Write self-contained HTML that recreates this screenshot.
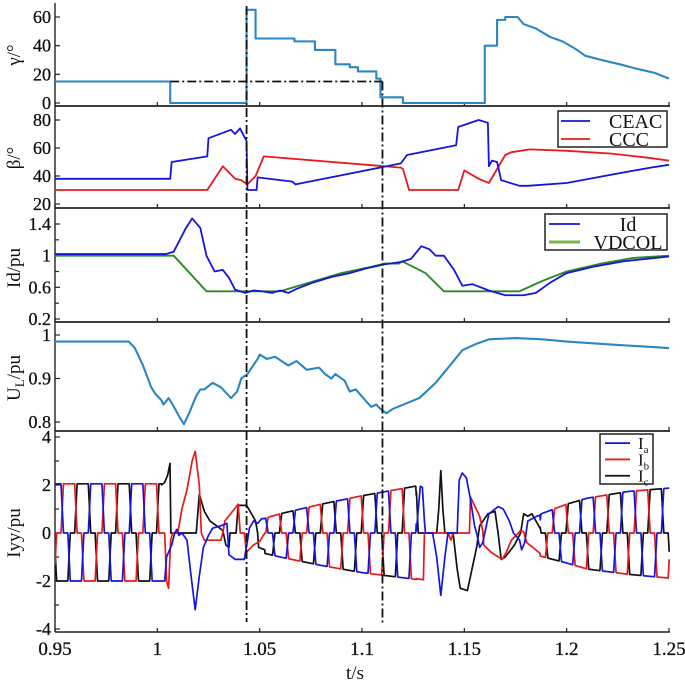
<!DOCTYPE html>
<html><head><meta charset="utf-8">
<style>
html,body{margin:0;padding:0;background:#fff;}
svg{display:block;font-family:"Liberation Serif",serif;}
</style></head>
<body>
<svg id="chart" width="685" height="683" viewBox="0 0 685 683" xmlns="http://www.w3.org/2000/svg"></svg>
<script>
// ---------- data ----------
const xTicks = [0.95, 1, 1.05, 1.1, 1.15, 1.2, 1.25];
const xTickLabels = ["0.95", "1", "1.05", "1.1", "1.15", "1.2", "1.25"];
const markerTimes = [1.0436, 1.110];
const gammaMarkerLevel = 15;

const gammaT = [0.95,1.0063,1.0063,1.0436,1.0436,1.048,1.048,1.067,1.067,1.077,1.077,1.087,1.087,1.094,1.094,1.098,1.098,1.107,1.107,1.109,1.109,1.12,1.12,1.160,1.160,1.166,1.166,1.170,1.170,1.176,1.179,1.185,1.192,1.198,1.204,1.209,1.217,1.226,1.234,1.243,1.25];
const gammaV = [15,15,0,0,65,65,45,45,43,43,37,37,27,27,25,25,22,22,17,17,4,4,0,0,40,40,58,58,60,60,55,52,46,43,38,33,30,27,24,21,17];

const ceacT = [0.95,1.0063,1.007,1.0244,1.025,1.036,1.038,1.0404,1.0436,1.044,1.0485,1.049,1.066,1.0675,1.119,1.122,1.146,1.147,1.157,1.1615,1.162,1.1635,1.166,1.168,1.177,1.181,1.2,1.222,1.241,1.25];
const ceacV = [38,38,50,54,67,73,70,74,65,30,30,39,36,34,49,55,62,75,80,78,47,51,50,37,33,33,35,41,46,48];
const cccT = [0.95,1.0244,1.032,1.038,1.041,1.044,1.048,1.052,1.119,1.120,1.123,1.147,1.150,1.157,1.162,1.166,1.170,1.173,1.182,1.2,1.222,1.240,1.25];
const cccV = [30,30,47,38,37,34,40,54,46,45,30,30,44,38,35,45,55,57,59,58,56,53,51];

const idT = [0.95,1.004,1.008,1.014,1.017,1.021,1.024,1.028,1.032,1.035,1.038,1.043,1.047,1.051,1.056,1.060,1.064,1.068,1.076,1.085,1.094,1.102,1.111,1.119,1.124,1.129,1.133,1.136,1.140,1.145,1.149,1.154,1.162,1.170,1.179,1.185,1.192,1.200,1.213,1.228,1.25];
const idV = [1.02,1.02,1.05,1.35,1.47,1.35,1.0,0.8,0.82,0.72,0.57,0.53,0.56,0.55,0.53,0.56,0.53,0.58,0.66,0.73,0.78,0.84,0.89,0.92,0.96,1.12,1.08,1.0,1.0,0.82,0.62,0.64,0.56,0.5,0.5,0.53,0.66,0.78,0.86,0.93,0.99];
const vdcolT = [0.95,1.008,1.024,1.060,1.073,1.090,1.103,1.111,1.118,1.1195,1.131,1.140,1.177,1.188,1.200,1.217,1.232,1.25];
const vdcolV = [1.0,1.0,0.55,0.55,0.65,0.78,0.85,0.9,0.9,0.93,0.78,0.55,0.55,0.68,0.8,0.9,0.97,1.0];

const ulT = [0.95,0.986,0.989,0.993,0.997,0.999,1.002,1.003,1.0055,1.0075,1.011,1.013,1.0155,1.019,1.021,1.023,1.027,1.031,1.036,1.039,1.041,1.044,1.049,1.050,1.0535,1.0575,1.064,1.068,1.073,1.079,1.082,1.085,1.087,1.0915,1.094,1.097,1.1025,1.1045,1.107,1.109,1.112,1.115,1.128,1.136,1.143,1.149,1.156,1.162,1.175,1.188,1.200,1.222,1.25];
const ulV = [0.985,0.985,0.97,0.93,0.88,0.865,0.85,0.84,0.855,0.84,0.81,0.795,0.82,0.86,0.875,0.875,0.89,0.88,0.855,0.87,0.9,0.91,0.945,0.955,0.945,0.95,0.93,0.94,0.92,0.925,0.91,0.9,0.91,0.895,0.87,0.875,0.845,0.835,0.84,0.83,0.82,0.83,0.855,0.89,0.93,0.965,0.98,0.99,0.993,0.99,0.985,0.978,0.97];

const envT = [0.95,1.003,1.05,1.06,1.08,1.10,1.128,1.187,1.2,1.21,1.23,1.25];
const envPos = [2.05,2.05,0.55,0.8,1.2,1.55,1.98,0.78,1.2,1.45,1.73,1.87];
const envNeg = [2.0,2.0,0.8,1.0,1.35,1.65,1.95,0.96,1.25,1.5,1.72,1.88];
const fundamentalPeriod = 0.02;
const phaseAFirstCenter = 0.9702;
const fault1 = [1.002, 1.0525];
const fault2 = [1.1265, 1.187];
const iaFault1 = [[1.002,-2],[1.0036,-2],[1.0045,-1.0],[1.007,-0.5],[1.0085,0],[1.0095,0.15],[1.0105,-0.1],[1.012,0],[1.0145,-0.3],[1.0165,-1.8],[1.0185,-3.2],[1.0205,-1.8],[1.0225,-0.6],[1.025,-0.1],[1.027,0.2],[1.031,0.3],[1.034,0.4],[1.035,-0.9],[1.038,-1.1],[1.0425,-1.1],[1.0435,-0.6],[1.045,0.2],[1.047,0.5],[1.049,0.4],[1.051,0.6],[1.0525,0.6]];
const ibFault1 = [[1.002,0],[1.0036,0],[1.0045,-2.0],[1.0055,-2.3],[1.0065,-0.3],[1.0075,0],[1.010,0],[1.012,1.0],[1.0145,1.8],[1.017,3.0],[1.0185,3.4],[1.0205,2.0],[1.0215,0],[1.023,-0.3],[1.031,-0.3],[1.032,0],[1.033,0.5],[1.0395,1.2],[1.0405,0],[1.0425,0],[1.0435,-0.8],[1.047,-0.5],[1.050,-0.35],[1.0525,0]];
const icFault1 = [[1.002,2.0],[1.0035,2.1],[1.005,2.4],[1.0062,2.9],[1.0066,0],[1.019,0],[1.0205,1.6],[1.023,0.9],[1.0257,0.5],[1.029,0.3],[1.032,0.1],[1.0335,-0.5],[1.035,-0.6],[1.0355,0],[1.0385,0],[1.0395,1.15],[1.0436,1.15],[1.046,0.8],[1.048,0.5],[1.049,0],[1.0495,-0.6],[1.0525,-0.7]];
const iaFault2 = [[1.1265,0],[1.1285,1.95],[1.1295,1.9],[1.1305,0.5],[1.131,0],[1.1345,0],[1.1365,-1.0],[1.1385,-2.6],[1.1405,-1.0],[1.142,0],[1.1465,0],[1.1475,2.2],[1.149,2.5],[1.151,2.3],[1.153,1.4],[1.155,0.3],[1.156,0],[1.1575,-0.6],[1.159,-0.4],[1.162,0.8],[1.1665,1.1],[1.169,1.0],[1.172,0.5],[1.174,0],[1.177,-0.3],[1.178,-0.7],[1.1795,-0.4],[1.181,0.5],[1.1855,0.7],[1.187,0.75]];
const ibFault2 = [[1.1265,-1.9],[1.13,-1.95],[1.1305,0],[1.142,0],[1.1435,-0.3],[1.1445,0],[1.1525,0],[1.153,1.5],[1.1575,0.7],[1.159,0.1],[1.1595,-0.5],[1.163,-0.8],[1.1685,-1.1],[1.1705,-0.8],[1.173,-0.3],[1.1775,0.1],[1.179,0.05],[1.1805,-0.4],[1.1835,-0.6],[1.187,-0.85]];
const icFault2 = [[1.1265,1.9],[1.1275,0],[1.1365,0],[1.1375,1.0],[1.1385,2.6],[1.1395,1.0],[1.1405,0],[1.1445,0],[1.1465,-1.5],[1.148,-2.3],[1.1515,-2.4],[1.1535,-1.6],[1.156,-0.6],[1.1575,0.3],[1.1615,0.8],[1.165,0.9],[1.1665,0],[1.168,-1.1],[1.170,-1.0],[1.1745,-0.5],[1.1775,0],[1.179,0.8],[1.181,0.7],[1.183,0.8],[1.187,0.2]];

// ---------- layout ----------
const NS = "http://www.w3.org/2000/svg";
const svg = document.getElementById('chart');
const X0 = 55, X1 = 669;
function xs(t){ return X0 + (t - 0.95) / 0.3 * (X1 - X0); }
const panels = [
  {name:'gamma', top:3, bottom:106, v0:0, y0:103, v1:60, y1:17, ticks:[0,20,40,60], labels:["0","20","40","60"], minor:[]},
  {name:'beta', top:106, bottom:208, v0:20, y0:204, v1:80, y1:120, ticks:[20,40,60,80], labels:["20","40","60","80"], minor:[]},
  {name:'id', top:208, bottom:322, v0:0.2, y0:319, v1:1.4, y1:224, ticks:[0.2,0.6,1,1.4], labels:["0.2","0.6","1","1.4"], minor:[0.4,0.8,1.2]},
  {name:'ul', top:322, bottom:431, v0:0.8, y0:422, v1:1.0, y1:335, ticks:[0.8,0.9,1], labels:["0.8","0.9","1"], minor:[]},
  {name:'iyy', top:431, bottom:632, v0:-4, y0:629, v1:4, y1:437, ticks:[-4,-2,0,2,4], labels:["-4","-2","0","2","4"], minor:[-3,-1,1,3]}
];
function ys(p, v){ return p.y0 + (v - p.v0) / (p.v1 - p.v0) * (p.y1 - p.y0); }

function el(tag, attrs, parent){
  const e = document.createElementNS(NS, tag);
  for (const k in attrs) e.setAttribute(k, attrs[k]);
  (parent || svg).appendChild(e);
  return e;
}
function interp(T, V, t){
  if (t <= T[0]) return V[0];
  for (let i = 1; i < T.length; i++){
    if (t <= T[i]){
      const a = T[i-1], b = T[i];
      if (b === a) return V[i];
      return V[i-1] + (V[i] - V[i-1]) * (t - a) / (b - a);
    }
  }
  return V[V.length - 1];
}
function pathFromTV(p, T, V){
  let d = '';
  for (let i = 0; i < T.length; i++){
    d += (i ? 'L' : 'M') + xs(T[i]).toFixed(2) + ',' + ys(p, V[i]).toFixed(2);
  }
  return d;
}

const defs = el('defs', {});
panels.forEach(p => {
  const cp = el('clipPath', {id:'clip-' + p.name}, defs);
  el('rect', {x:X0, y:p.top, width:X1 - X0 + 2, height:p.bottom - p.top}, cp);
});

panels.forEach((p, pi) => {
  const g = el('g', {});
  
  
  el('line', {x1:X0, y1:p.top, x2:X0, y2:p.bottom, stroke:'#222', 'stroke-width':1.4}, g);
  el('line', {x1:X0, y1:p.bottom, x2:X1 + 1, y2:p.bottom, stroke:'#222', 'stroke-width':pi === 4 ? 1.4 : 1.8}, g);
  p.ticks.forEach((v, i) => {
    const y = ys(p, v);
    el('line', {x1:X0, y1:y, x2:X0 + 5, y2:y, stroke:'#222', 'stroke-width':1.2}, g);
    const tx = el('text', {x:X0 - 4, y:y + 6, 'text-anchor':'end', 'font-size':18, fill:'#111', stroke:'#111', 'stroke-width':0.3}, g);
    tx.textContent = p.labels[i];
    
    
  });
  p.minor.forEach(v => {
    const y = ys(p, v);
    el('line', {x1:X0, y1:y, x2:X0 + 4, y2:y, stroke:'#222', 'stroke-width':1.2}, g);
  });
  xTicks.forEach(t => {
    const x = xs(t);
    el('line', {x1:x, y1:p.bottom, x2:x, y2:p.bottom - 4, stroke:'#222', 'stroke-width':1.2}, g);
  });
});

xTicks.forEach((t, i) => {
  const tx = el('text', {x:xs(t), y:655, 'text-anchor':'middle', 'font-size':19, fill:'#111', stroke:'#111', 'stroke-width':0.3});
  tx.textContent = xTickLabels[i];
  
  
});
const xt = el('text', {x:355, y:679, 'text-anchor':'middle', 'font-size':19, fill:'#111'});
xt.textContent = 't/s';



const yTitles = [
  ['γ/°', 55, 'gamma-axis-title'], ['β/°', 158, 'beta-axis-title'], ['Id/pu', 268, 'id-axis-title'],
  [null, 378, 'ul-axis-title'], ['Iyy/pu', 533, 'iyy-axis-title']
];
yTitles.forEach(yt => {
  const tx = el('text', {x:0, y:0, 'text-anchor':'middle', 'font-size':19, fill:'#111', transform:'translate(20,' + yt[1] + ') rotate(-90)'});
  if (yt[0]) tx.textContent = yt[0];
  else {
    tx.appendChild(document.createTextNode('U'));
    const s = el('tspan', {'font-size':13, dy:4}, tx); s.textContent = 'L';
    const s2 = el('tspan', {dy:-4}, tx); s2.textContent = '/pu';
  }
  
  
});

function series(p, T, V, color, width, name){
  const path = el('path', {d:pathFromTV(p, T, V), fill:'none', stroke:color, 'stroke-width':width, 'stroke-linejoin':'round', 'clip-path':'url(#clip-' + p.name + ')'});
  
  
  return path;
}

const LB = '#2b86c2';
series(panels[0], gammaT, gammaV, LB, 2.1, 'gamma-line');
series(panels[1], cccT, cccV, '#e8191c', 1.8, 'ccc-line');
series(panels[1], ceacT, ceacV, '#1515e0', 1.8, 'ceac-line');
series(panels[2], vdcolT, vdcolV, '#2a8a24', 1.9, 'vdcol-line');
series(panels[2], idT, idV, '#1515e0', 1.8, 'id-line');
series(panels[3], ulT, ulV, LB, 2.1, 'ul-line');

function trap(d, w, r){
  if (d <= w - r / 2) return 1;
  if (d >= w + r / 2) return 0;
  return (w + r / 2 - d) / r;
}
function distToCenter(t, c){
  let s = ((t - c) % fundamentalPeriod + fundamentalPeriod) % fundamentalPeriod;
  return Math.min(s, fundamentalPeriod - s);
}
function phaseValue(k, t, f1, f2){
  if (t >= fault1[0] && t <= fault1[1]) return interp(f1.map(q => q[0]), f1.map(q => q[1]), t);
  if (t >= fault2[0] && t <= fault2[1]) return interp(f2.map(q => q[0]), f2.map(q => q[1]), t);
  const c = phaseAFirstCenter + k * fundamentalPeriod / 3;
  const w = fundamentalPeriod / 6, r = 0.0012;
  const pos = trap(distToCenter(t, c), w, r);
  const neg = trap(distToCenter(t, c + fundamentalPeriod / 2), w, r);
  return interp(envT, envPos, t) * pos - interp(envT, envNeg, t) * neg;
}
const phaseDefs = [
  [0, iaFault1, iaFault2, '#1515e0', 'ia-line'],
  [1, ibFault1, ibFault2, '#e8191c', 'ib-line'],
  [2, icFault1, icFault2, '#111111', 'ic-line']
];
phaseDefs.slice().reverse().forEach(ph => {
  const T = [], V = [];
  for (let t = 0.95; t <= 1.2501; t += 0.0001){
    T.push(t); V.push(phaseValue(ph[0], t, ph[1], ph[2]));
  }
  series(panels[4], T, V, ph[3], 1.7, ph[4]);
});

const dd = '9,3,2,3';
const m1 = el('line', {x1:xs(markerTimes[0]), y1:6, x2:xs(markerTimes[0]), y2:622, stroke:'#111', 'stroke-width':1.8, 'stroke-dasharray':dd});


const gy = ys(panels[0], gammaMarkerLevel);
const m2 = el('line', {x1:xs(markerTimes[1]), y1:gy, x2:xs(markerTimes[1]), y2:625, stroke:'#111', 'stroke-width':1.8, 'stroke-dasharray':dd});


const m3 = el('line', {x1:xs(1.0063), y1:gy, x2:xs(markerTimes[1]), y2:gy, stroke:'#111', 'stroke-width':1.8, 'stroke-dasharray':dd});



function legend(name, x, y, w, h, entries, lx1, lx2, tx, rowH, fs, anchor){
  const g = el('g', {});
  
  
  el('rect', {x:x, y:y, width:w, height:h, fill:'#fff', stroke:'#222', 'stroke-width':1.5}, g);
  entries.forEach((e, i) => {
    const cy = y + rowH * (i + 0.5) + 1;
    el('line', {x1:lx1, y1:cy, x2:lx2, y2:cy, stroke:e[1], 'stroke-width':e[2] || 1.8}, g);
    const t = el('text', {x:tx, y:cy + fs * 0.35, 'font-size':fs, fill:'#111', 'text-anchor':anchor || 'start'}, g);
    if (e[3]) {
      t.appendChild(document.createTextNode('I'));
      const s = el('tspan', {'font-size':11, dy:4}, t); s.textContent = e[3];
    } else t.textContent = e[0];
    
    
  });
}
legend('beta-legend', 558, 111, 109, 36, [['CEAC', '#1515e0'], ['CCC', '#e8191c']], 561, 590, 609, 18, 20);
legend('id-legend', 545, 214, 122, 36, [['Id', '#1515e0'], ['VDCOL', '#7ab648', 3]], 549, 580, 628, 18, 20, 'middle');
legend('current-legend', 600, 434, 53, 50, [['Ia', '#1515e0', 1.8, 'a'], ['Ib', '#e8191c', 1.8, 'b'], ['Ic', '#111', 1.8, 'c']], 605, 630, 638, 16.3, 17);
</script>
</body></html>
